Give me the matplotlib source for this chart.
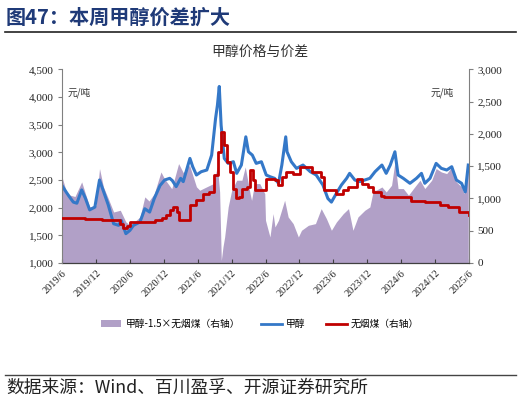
import matplotlib
matplotlib.use("Agg")
import matplotlib.pyplot as plt
from matplotlib.patches import Patch
from matplotlib.lines import Line2D
from matplotlib.ticker import FuncFormatter
import pandas as pd

CJK = ['Noto Sans CJK SC', 'DejaVu Sans']
SERIF = ['Liberation Serif', 'DejaVu Serif']
plt.rcParams['font.family'] = SERIF

# ---------------- data ----------------
meth_dates = ['2019-06-01','2019-06-20','2019-07-10','2019-08-01','2019-08-20','2019-09-15','2019-10-05',
              '2019-10-28','2019-11-25','2019-12-20','2020-01-10','2020-02-05','2020-03-05','2020-04-01',
              '2020-04-15','2020-05-10','2020-06-01','2020-06-20','2020-07-25','2020-08-20','2020-09-15',
              '2020-10-10','2020-11-10','2020-12-05','2021-01-01','2021-01-15','2021-02-05','2021-03-01',
              '2021-03-15','2021-04-20','2021-05-05','2021-05-25','2021-06-20','2021-07-20','2021-08-15',
              '2021-09-05','2021-09-15','2021-09-25','2021-10-05','2021-10-22','2021-11-12','2021-12-10',
              '2021-12-28','2022-01-22','2022-02-15','2022-03-01','2022-03-22','2022-04-12','2022-05-10',
              '2022-06-05','2022-06-25','2022-07-20','2022-08-10','2022-08-28','2022-09-18','2022-09-25',
              '2022-10-18','2022-11-15','2022-12-20','2023-01-28','2023-03-01','2023-04-06','2023-05-03',
              '2023-05-22','2023-06-18','2023-07-15','2023-08-12','2023-08-28','2023-09-25','2023-10-22',
              '2023-11-18','2023-12-15','2024-01-12','2024-02-18','2024-03-12','2024-04-03','2024-04-28',
              '2024-05-15','2024-06-12','2024-07-18','2024-08-22','2024-09-18','2024-10-06','2024-11-03',
              '2024-12-06','2025-01-03','2025-02-01','2025-02-28','2025-03-25','2025-04-22','2025-05-12',
              '2025-05-28']
methanol = [2400, 2300, 2200, 2100, 2080, 2320, 2170,
            1960, 2010, 2500, 2300, 2050, 1710, 1680,
            1770, 1530, 1590, 1680, 1740, 1980, 1920,
            2165, 2400, 2500, 2530, 2490, 2380, 2530,
            2470, 2890, 2740, 2590, 2650, 2680, 2950,
            3610, 3850, 4190, 3490, 2890, 2800, 2830,
            2620, 2770, 3280, 3010, 2950, 2800, 2830,
            2590, 2560, 2530, 2440, 2770, 3280, 3010,
            2830, 2710, 2770, 2650, 2590, 2410, 2165,
            2100, 2260, 2410, 2530, 2620, 2500, 2470,
            2500, 2530, 2650, 2770, 2620, 2770, 3010,
            2590, 2530, 2440, 2530, 2620, 2440, 2530,
            2800, 2710, 2680, 2740, 2500, 2440, 2285,
            2770]

coal_dates = ['2019-06-01','2019-10-01','2020-01-01','2020-03-20','2020-04-10','2020-04-25','2020-05-15',
              '2020-06-01','2020-09-01','2020-10-15','2020-11-20','2020-12-10','2021-01-01','2021-01-20',
              '2021-02-10','2021-02-20','2021-04-01','2021-04-20','2021-05-20','2021-07-01','2021-08-01',
              '2021-08-28','2021-09-20','2021-10-05','2021-10-20','2021-11-03','2021-11-20','2021-12-10',
              '2021-12-22','2022-01-10','2022-01-25','2022-02-20','2022-03-10','2022-03-25','2022-04-05',
              '2022-06-01','2022-07-22','2022-08-10','2022-08-28','2022-09-22','2022-10-28','2022-12-05',
              '2023-01-15','2023-02-05','2023-03-25','2023-04-12','2023-06-18','2023-07-25','2023-08-22',
              '2023-10-05','2023-11-03','2023-12-05','2024-01-03','2024-02-15','2024-03-01','2024-06-15',
              '2024-07-25','2024-10-05','2024-12-25','2025-02-10','2025-04-10','2025-05-31']
coal = [690, 680, 668, 660, 600, 545, 570,
        636, 640, 665, 690, 740, 820, 868,
        790, 662, 662, 894, 972, 1075, 1100,
        1359, 1720, 2030, 1827, 1566, 1410, 1153,
        1000, 1024, 1153, 1178, 1437, 1282, 1127,
        1308, 1282, 1204, 1333, 1410, 1385, 1488,
        1488, 1410, 1333, 1127, 1075, 1127, 1178,
        1308, 1230, 1178, 1100, 1034, 1024, 1024,
        956, 951, 894, 868, 790, 750]

spread_dates = ['2019-06-01','2019-06-25','2019-07-15','2019-08-10','2019-09-15','2019-10-28','2019-12-01',
                '2019-12-20','2020-01-10','2020-02-05','2020-03-05','2020-04-10','2020-05-10','2020-06-03',
                '2020-07-25','2020-08-20','2020-09-12','2020-10-10','2020-11-15','2020-12-05','2021-01-12',
                '2021-02-18','2021-03-15','2021-04-18','2021-05-25','2021-06-12','2021-07-18','2021-08-25',
                '2021-09-15','2021-09-27','2021-10-06','2021-10-15','2021-10-24','2021-11-12','2021-12-01',
                '2021-12-28','2022-01-25','2022-02-12','2022-03-10','2022-03-18','2022-04-03','2022-05-01',
                '2022-05-28','2022-06-01','2022-06-25','2022-07-12','2022-07-22','2022-08-10','2022-09-12',
                '2022-10-01','2022-10-28','2022-11-25','2022-12-12','2023-01-18','2023-02-25','2023-03-28',
                '2023-04-25','2023-05-22','2023-06-18','2023-07-25','2023-08-22','2023-09-15','2023-10-12',
                '2023-11-18','2023-12-15','2024-01-03','2024-01-18','2024-02-18','2024-03-12','2024-04-10',
                '2024-04-28','2024-05-15','2024-06-12','2024-07-10','2024-08-06','2024-09-10','2024-10-06',
                '2024-11-12','2024-12-06','2025-01-03','2025-02-01','2025-02-28','2025-03-25','2025-04-22',
                '2025-05-06','2025-05-28']
spread = [1333, 1100, 1050, 1030, 1256, 868, 894,
          1463, 1180, 1000, 790, 817, 636, 584,
          713, 1024, 960, 1075, 1410, 1300, 1150,
          1540, 1400, 1514, 1180, 1127, 1178, 1230,
          1500, 1100, 40, 250, 403, 868, 1127,
          1282, 1282, 1488, 1075, 970, 1230, 1230,
          1075, 662, 403, 765, 558, 662, 972,
          713, 610, 403, 507, 584, 610, 842,
          688, 507, 636, 765, 842, 507, 713,
          817, 868, 1127, 1127, 1178, 1100, 1204,
          1566, 1153, 1153, 1050, 1153, 1282, 1153,
          1282, 1463, 1410, 1385, 1488, 1256, 1178,
          1075, 1463]

tick_dates = ['2019-06-01','2019-12-01','2020-06-01','2020-12-01','2021-06-01','2021-12-01','2022-06-01',
              '2022-12-01','2023-06-01','2023-12-01','2024-06-01','2024-12-01','2025-06-01']

# ---------------- figure ----------------
W, H = 521, 405
fig = plt.figure(figsize=(W/100, H/100), dpi=100)

def fx(px): return px / W
def fy(py): return 1 - py / H

L, R, T, B = 62, 469, 69.3, 263
rect = [fx(L), fy(B), fx(R) - fx(L), fy(T) - fy(B)]

axF = fig.add_axes(rect, zorder=1)              # spread fill (right scale)
ax = fig.add_axes(rect, zorder=2, sharex=axF)   # methanol (left scale)
axC = fig.add_axes(rect, zorder=3, sharex=axF)  # coal (right scale)
for a in (axF, ax, axC):
    a.patch.set_visible(False)
    for s in a.spines.values():
        s.set_visible(False)

md = pd.to_datetime(meth_dates)
cd = pd.to_datetime(coal_dates)
sd = pd.to_datetime(spread_dates)
td = pd.to_datetime(tick_dates)

PURPLE = '#B1A0C7'
BLUE = '#3478C8'
RED = '#C00000'

axF.fill_between(sd, 0, spread, color=PURPLE, linewidth=0)
ax.plot(md, methanol, color=BLUE, lw=2.2)
axC.plot(cd, coal, color=RED, lw=2.0, drawstyle='steps-post')

axF.set_ylim(0, 3000)
axC.set_ylim(0, 3000)
ax.set_ylim(1000, 4500)
axF.set_xlim(td[0], td[-1])

fmt = FuncFormatter(lambda v, p: f"{int(v):,}")

# left axis
ax.set_yticks(range(1000, 4501, 500))
ax.yaxis.set_major_formatter(fmt)
ax.spines['left'].set_visible(True)
ax.spines['left'].set_color('#808080')
ax.spines['left'].set_linewidth(0.8)
ax.tick_params(axis='y', direction='out', length=3, width=0.8, color='#808080', labelsize=8,
               labelcolor='#222222', pad=3)

# right axis (on fill axes)
axF.yaxis.tick_right()
axF.set_yticks(range(0, 3001, 500))
axF.yaxis.set_major_formatter(fmt)
axF.spines['right'].set_visible(True)
axF.spines['right'].set_color('#808080')
axF.spines['right'].set_linewidth(0.8)
axF.tick_params(axis='y', direction='out', length=3, width=0.8, color='#808080', labelsize=8,
                labelcolor='#222222', pad=3)

# bottom axis
axF.spines['bottom'].set_visible(True)
axF.spines['bottom'].set_color('#404040')
axF.spines['bottom'].set_linewidth(0.9)
axF.set_xticks(td)
axF.set_xticklabels([f"{d.year}/{d.month}" for d in td], rotation=45, ha='right',
                    rotation_mode='anchor', fontsize=7.5, color='#222222')
axF.tick_params(axis='x', direction='in', length=3, width=0.8, color='#404040', pad=4)
ax.tick_params(axis='x', bottom=False, labelbottom=False)
axC.tick_params(axis='both', left=False, bottom=False, labelleft=False, labelbottom=False)
axC.set_yticks([])

# unit labels
fig.text(fx(68), fy(93), '元/吨', family=CJK, fontsize=7, va='center', ha='left', color='#333333')
fig.text(fx(431), fy(93), '元/吨', family=CJK, fontsize=7, va='center', ha='left', color='#333333')

# titles
fig.text(fx(6), fy(17), '图47：本周甲醇价差扩大', family=CJK, fontsize=14.5, fontweight='bold',
         color='#1F3A78', va='center', ha='left')
fig.add_artist(Line2D([fx(5), fx(516)], [fy(31.5), fy(31.5)], color='#222222', lw=1.2))
fig.text(fx(260), fy(52), '甲醇价格与价差', family=CJK, fontsize=10, va='center', ha='center', color='#333333')

# legend
handles = [Patch(facecolor=PURPLE, edgecolor='none'),
           Line2D([], [], color=BLUE, lw=2),
           Line2D([], [], color=RED, lw=2)]
labels = ['甲醇-1.5×无烟煤（右轴）', '甲醇', '无烟煤（右轴）']
fig.legend(handles, labels, loc='center', bbox_to_anchor=(fx(260), fy(324)), ncol=3, frameon=False,
           prop={'family': CJK, 'size': 7}, handlelength=2.1, handleheight=0.6, handletextpad=0.4,
           columnspacing=2.2)

# source
fig.add_artist(Line2D([fx(5), fx(516)], [fy(375), fy(375)], color='#444444', lw=1.0))
fig.text(fx(6), fy(388), '数据来源：Wind、百川盈孚、开源证券研究所', family=CJK, fontsize=12.8,
         va='center', ha='left', color='#222222')

fig.savefig('out.png', dpi=100)
